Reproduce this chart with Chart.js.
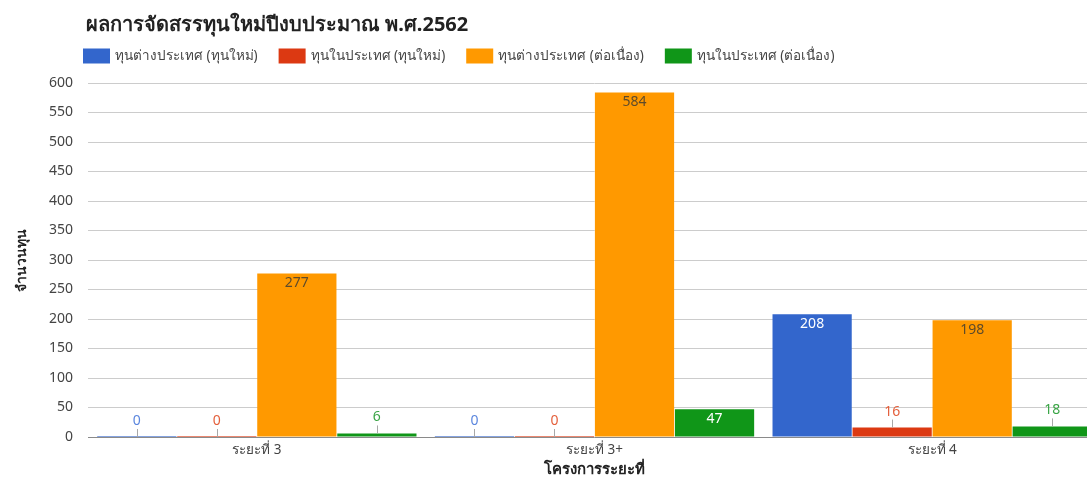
<!DOCTYPE html>
<html lang="th">
<head>
<meta charset="utf-8">
<title>ผลการจัดสรรทุนใหม่ปีงบประมาณ พ.ศ.2562</title>
<script src="https://cdn.jsdelivr.net/npm/chart.js@4.4.1/dist/chart.umd.min.js"></script>
<style>
  html, body { margin: 0; padding: 0; background: #fff; overflow: hidden; }
  #wrap { width: 1101px; height: 478px; }
</style>
</head>
<body>
<div id="wrap"><canvas id="chart" width="1101" height="478"></canvas></div>
<script>
// Budget-year 2562 scholarship allocation, by project phase
const chartTitle = 'ผลการจัดสรรทุนใหม่ปีงบประมาณ พ.ศ.2562';
const categories = ['ระยะที่ 3', 'ระยะที่ 3+', 'ระยะที่ 4'];
const seriesNames = [
  'ทุนต่างประเทศ (ทุนใหม่)',
  'ทุนในประเทศ (ทุนใหม่)',
  'ทุนต่างประเทศ (ต่อเนื่อง)',
  'ทุนในประเทศ (ต่อเนื่อง)'
];
const abroadNew = [0, 0, 208];
const domesticNew = [0, 0, 16];
const abroadCont = [277, 584, 198];
const domesticCont = [6, 47, 18];
const yTicks = [0, 50, 100, 150, 200, 250, 300, 350, 400, 450, 500, 550, 600];
const xAxisTitle = 'โครงการระยะที่';
const yAxisTitle = 'จำนวนทุน';

const FONT = "'Noto Sans', 'Open Sans', 'DejaVu Sans', sans-serif";
const colors = ['#3366cc', '#dc3912', '#ff9900', '#109618'];
const outsideLabelColors = ['#5b86de', '#e4603c', '#e89a30', '#3aa546'];
const insideLabelColors = ['#ffffff', '#ffffff', '#5e4b2a', '#ffffff'];

const seriesValues = [abroadNew, domesticNew, abroadCont, domesticCont];

// Title and legend row drawn above the plot
const headerPlugin = {
  id: 'header',
  afterDraw(chart) {
    const ctx = chart.ctx;
    ctx.save();
    ctx.fillStyle = '#222';
    ctx.font = 'bold 20px ' + FONT;
    ctx.textAlign = 'left';
    ctx.textBaseline = 'middle';
    ctx.fillText(chartTitle, 86, 25);

    ctx.font = '13.5px ' + FONT;
    let x = 83;
    const y = 56;
    chart.data.datasets.forEach((ds) => {
      ctx.fillStyle = ds.backgroundColor;
      ctx.fillRect(x, y - 7.5, 27, 15);
      ctx.fillStyle = '#444';
      ctx.fillText(ds.label, x + 32, y);
      x += 32 + ctx.measureText(ds.label).width + 21;
    });
    ctx.restore();
  }
};

// Zero-height bars still show as a thin coloured line on the baseline
const baselinePlugin = {
  id: 'zeroBars',
  afterDatasetsDraw(chart) {
    const ctx = chart.ctx;
    ctx.save();
    chart.data.datasets.forEach((ds, di) => {
      chart.getDatasetMeta(di).data.forEach((bar, i) => {
        if (ds.data[i] === 0) {
          ctx.fillStyle = ds.backgroundColor;
          ctx.globalAlpha = 0.6;
          ctx.fillRect(bar.x - bar.width / 2, bar.base - 1, bar.width, 1);
        }
      });
    });
    ctx.restore();
  }
};

// Value annotations: inside the top of tall bars, above short ones with a stem
const valueLabelPlugin = {
  id: 'valueLabels',
  afterDatasetsDraw(chart) {
    const ctx = chart.ctx;
    ctx.save();
    ctx.font = '14px ' + FONT;
    ctx.textAlign = 'center';
    ctx.textBaseline = 'middle';
    chart.data.datasets.forEach((ds, di) => {
      const meta = chart.getDatasetMeta(di);
      meta.data.forEach((bar, i) => {
        const v = ds.data[i];
        const h = bar.base - bar.y;
        const text = String(v);
        if (h >= 22) {
          ctx.fillStyle = insideLabelColors[di];
          ctx.fillText(text, bar.x, bar.y + 9.5);
        } else {
          ctx.strokeStyle = '#a8a8a8';
          ctx.lineWidth = 1;
          ctx.beginPath();
          ctx.moveTo(Math.round(bar.x) + 0.5, bar.y);
          ctx.lineTo(Math.round(bar.x) + 0.5, bar.y - 8);
          ctx.stroke();
          ctx.fillStyle = outsideLabelColors[di];
          ctx.fillText(text, bar.x, bar.y - 16);
        }
      });
    });
    ctx.restore();
  }
};

const chart = new Chart(document.getElementById('chart'), {
  type: 'bar',
  data: {
    labels: categories,
    datasets: seriesNames.map((name, k) => ({
      label: name,
      data: seriesValues[k],
      backgroundColor: colors[k],
      borderWidth: 0,
      barPercentage: 0.99,
      categoryPercentage: 0.948
    }))
  },
  options: {
    responsive: false,
    animation: false,
    devicePixelRatio: 1,
    layout: { padding: { top: 83, left: 0, right: 0, bottom: 0 } },
    plugins: {
      legend: { display: false },
      title: { display: false },
      tooltip: { enabled: false }
    },
    scales: {
      x: {
        offset: true,
        grid: { display: false, drawTicks: false },
        border: { display: false },
        ticks: {
          color: '#444',
          font: { family: FONT, size: 13.5 },
          padding: 5,
          maxRotation: 0
        },
        title: {
          display: true,
          text: xAxisTitle,
          color: '#222',
          font: { family: FONT, size: 15, weight: 'bold' },
          padding: { top: 0, bottom: -1 }
        },
        afterFit(scale) { scale.height = 41; }
      },
      y: {
        min: 0,
        max: 600,
        grid: {
          drawTicks: false,
          color(c) {
            if (c.tick.value === 0) return '#8a8a8a';
            return c.tick.value % 50 === 0 ? '#cccccc' : '#ececec';
          }
        },
        border: { display: false },
        afterBuildTicks(scale) {
          const all = [];
          for (let v = 0; v <= 600; v += 25) all.push({ value: v });
          scale.ticks = all;
        },
        ticks: {
          color: '#444',
          font: { family: FONT, size: 14 },
          padding: 15,
          callback(value) { return yTicks.includes(value) ? String(value) : ''; }
        },
        title: {
          display: true,
          text: yAxisTitle,
          color: '#222',
          font: { family: FONT, size: 14, weight: 'bold' },
          padding: { top: 14, bottom: 0 }
        },
        afterFit(scale) { scale.width = 88; }
      }
    }
  },
  plugins: [headerPlugin, baselinePlugin, valueLabelPlugin]
});
</script>
</body>
</html>
